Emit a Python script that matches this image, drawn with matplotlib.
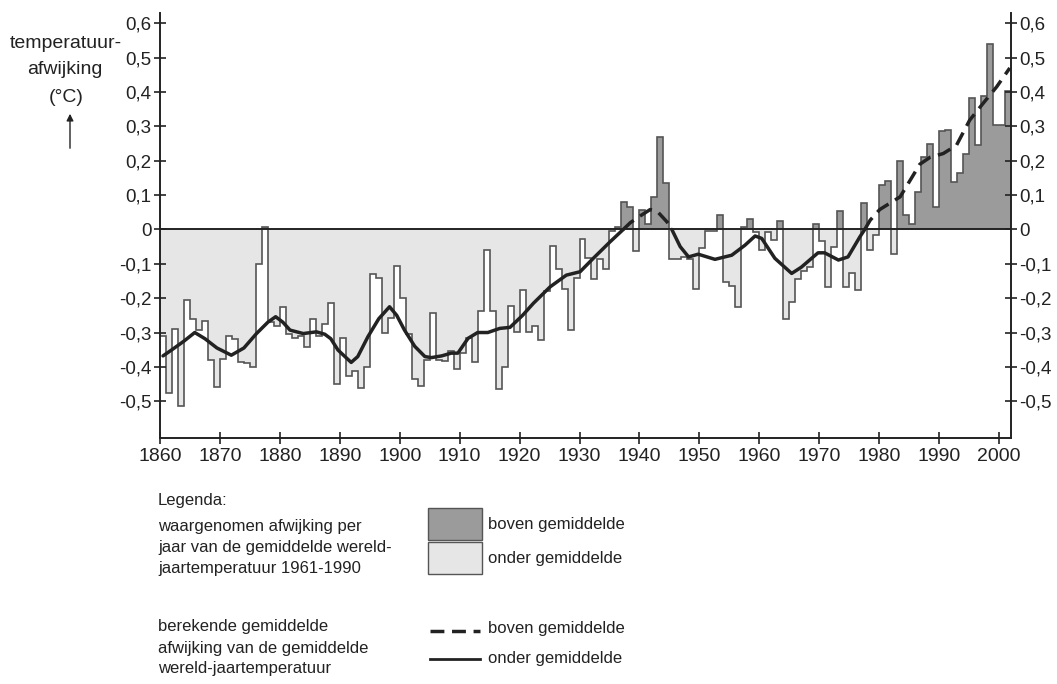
import numpy as np
import matplotlib
matplotlib.use("Agg")
import matplotlib.pyplot as plt
from matplotlib.patches import Rectangle
from matplotlib.lines import Line2D

plt.rcParams['font.family'] = ['Liberation Sans', 'DejaVu Sans']

# ---- data: yearly anomaly (deg C, relative to 1961-1990) ----
years = list(range(1860, 2002))
anomaly = [
    -0.31, -0.475, -0.29, -0.515, -0.204, -0.26, -0.293, -0.267, -0.38, -0.46,   # 1860-1869
    -0.376, -0.31, -0.32, -0.385, -0.39, -0.40, -0.102, 0.006, -0.27, -0.28,     # 1870-1879
    -0.227, -0.303, -0.317, -0.31, -0.342, -0.261, -0.31, -0.274, -0.213, -0.449, # 1880-1889
    -0.317, -0.426, -0.412, -0.462, -0.40, -0.13, -0.141, -0.30, -0.257, -0.107, # 1890-1899
    -0.20, -0.305, -0.436, -0.457, -0.38, -0.244, -0.38, -0.383, -0.353, -0.406, # 1900-1909
    -0.359, -0.317, -0.387, -0.236, -0.06, -0.236, -0.465, -0.40, -0.223, -0.298, # 1910-1919
    -0.177, -0.298, -0.28, -0.322, -0.179, -0.048, -0.116, -0.174, -0.293, -0.14, # 1920-1929
    -0.028, -0.084, -0.145, -0.087, -0.116, -0.005, 0.008, 0.08, 0.064, -0.062,  # 1930-1939
    0.058, 0.015, 0.093, 0.27, 0.134, -0.087, -0.086, -0.081, -0.085, -0.174,    # 1940-1949
    -0.055, -0.004, -0.004, 0.042, -0.154, -0.165, -0.225, 0.008, 0.03, -0.007,  # 1950-1959
    -0.06, -0.007, -0.031, 0.024, -0.26, -0.21, -0.145, -0.12, -0.11, 0.015,     # 1960-1969
    -0.035, -0.167, -0.05, 0.053, -0.167, -0.128, -0.175, 0.078, -0.06, -0.016,  # 1970-1979
    0.13, 0.141, -0.07, 0.2, 0.042, 0.015, 0.11, 0.211, 0.25, 0.064,             # 1980-1989
    0.287, 0.29, 0.139, 0.165, 0.221, 0.384, 0.247, 0.388, 0.54, 0.303,          # 1990-1999
    0.305, 0.402,                                                                 # 2000-2001
]

# ---- data: smoothed (calculated) mean anomaly ----
smooth_years = [1860.5, 1862, 1864, 1865.8, 1867.5, 1869.5, 1871.9, 1874, 1876.1, 1878,
                1879.3, 1880.5, 1881.7, 1883.9, 1886.1, 1887.5, 1888.5, 1889.7, 1891.9, 1893,
                1894.7, 1896.5, 1898.3, 1899.5, 1900.8, 1902.5, 1904.2, 1905.3, 1907, 1908.6,
                1909.7, 1911.4, 1913.0, 1914.7, 1916.7, 1918.4, 1920.5, 1922.3, 1925.1, 1927.8,
                1930.1, 1932.3, 1935.1, 1937.3, 1938.5, 1940.1, 1941.8, 1942.9, 1944.6, 1945.4,
                1946.8, 1948.2, 1949.8, 1952.6, 1955.4, 1957.6, 1959.3, 1960.4, 1962.6, 1965.4,
                1967.0, 1969.8, 1970.9, 1973.2, 1974.8, 1976.8, 1977.6, 1978.5, 1980.1, 1983.5,
                1986.8, 1988.5, 1990.7, 1992.9, 1995.1, 1997.3, 1999.6, 2001.8]
smooth_vals = [-0.368, -0.35, -0.325, -0.30, -0.318, -0.345, -0.366, -0.345, -0.303, -0.27,
               -0.254, -0.27, -0.293, -0.303, -0.298, -0.305, -0.318, -0.351, -0.387, -0.37,
               -0.312, -0.26, -0.225, -0.25, -0.293, -0.34, -0.37, -0.373, -0.368, -0.36,
               -0.36, -0.317, -0.30, -0.30, -0.288, -0.285, -0.25, -0.215, -0.167, -0.133,
               -0.123, -0.084, -0.036, 0.0, 0.02, 0.039, 0.058, 0.054, 0.022, 0.0,
               -0.05, -0.08, -0.072, -0.087, -0.075, -0.046, -0.019, -0.026, -0.084, -0.128,
               -0.11, -0.068, -0.068, -0.089, -0.08, -0.021, 0.0, 0.027, 0.058, 0.095,
               0.19, 0.21, 0.221, 0.245, 0.318, 0.366, 0.415, 0.47]

y_ticks = [0.6, 0.5, 0.4, 0.3, 0.2, 0.1, 0.0, -0.1, -0.2, -0.3, -0.4, -0.5]
y_tick_labels = ['0,6', '0,5', '0,4', '0,3', '0,2', '0,1', '0', '-0,1', '-0,2', '-0,3', '-0,4', '-0,5']
x_ticks = list(range(1860, 2001, 10))

DARK = '#9b9b9b'
LIGHT = '#e6e6e6'
EDGE = '#555555'
INK = '#222222'
DASH = (0, (4.0, 2.2))

W, H = 1057, 684
fig = plt.figure(figsize=(W / 100, H / 100), dpi=100)
ax = fig.add_axes([160 / W, 1 - 438 / H, (1010.7 - 160) / W, (438 - 13) / H])

vals = np.array(anomaly)
edges = np.arange(years[0], years[-1] + 2)
pos = np.where(vals > 0, vals, 0)
neg = np.where(vals < 0, vals, 0)
ax.stairs(neg, edges, baseline=0, fill=True, color=LIGHT, lw=0)
ax.stairs(pos, edges, baseline=0, fill=True, color=DARK, lw=0)
ax.stairs(vals, edges, baseline=None, color=EDGE, lw=1.2)
ax.axhline(0, color=INK, lw=1.4)

sv = np.array(smooth_vals)
sy = np.array(smooth_years)
solid = np.where(sv <= 0, sv, np.nan)
dashed = np.where(sv >= 0, sv, np.nan)
ax.plot(sy, solid, color=INK, lw=2.5, solid_capstyle='round', solid_joinstyle='round')
ax.plot(sy, dashed, color=INK, lw=2.5, linestyle=DASH)

ax.set_xlim(1860, 2001.95)
ax.set_ylim(-0.607, 0.63)
ax.spines['top'].set_visible(False)
for s in ['left', 'right', 'bottom']:
    ax.spines[s].set_color(INK)
    ax.spines[s].set_linewidth(1.4)

ax.set_yticks(y_ticks)
ax.set_yticklabels(y_tick_labels)
ax.set_xticks(x_ticks)
ax.set_xticklabels([str(x) for x in x_ticks])
ax.tick_params(axis='y', which='both', direction='inout', length=8, width=1.2, color=INK,
               labelsize=13.5, left=True, right=True, labelleft=True, labelright=True, pad=2,
               labelcolor=INK)
ax.tick_params(axis='x', direction='inout', length=8, width=1.2, color=INK, labelsize=14,
               pad=3, labelcolor=INK)

def ft(x, y, s, ha='left', size=12):
    fig.text(x / W, 1 - y / H, s, ha=ha, va='center', fontsize=size, color=INK)

# y-axis title
ft(66, 44, 'temperatuur-', ha='center', size=14)
ft(65, 70, 'afwijking', ha='center', size=14)
ft(66, 97, '(°C)', ha='center', size=14)
ax.annotate('', xy=(70, H - 111), xytext=(70, H - 151), xycoords='figure pixels',
            textcoords='figure pixels',
            arrowprops=dict(arrowstyle='-|>', color=INK, lw=1.0, mutation_scale=10))

# legend
ft(158, 501, 'Legenda:')
ft(158, 527, 'waargenomen afwijking per')
ft(158, 547.5, 'jaar van de gemiddelde wereld-')
ft(158, 568, 'jaartemperatuur 1961-1990')
ft(158, 627, 'berekende gemiddelde')
ft(158, 648, 'afwijking van de gemiddelde')
ft(158, 669, 'wereld-jaartemperatuur')

fig.add_artist(Rectangle((428 / W, 1 - 540 / H), 54 / W, 32 / H, transform=fig.transFigure,
                         facecolor=DARK, edgecolor=EDGE, lw=1.0))
fig.add_artist(Rectangle((428 / W, 1 - 574 / H), 54 / W, 32 / H, transform=fig.transFigure,
                         facecolor=LIGHT, edgecolor=EDGE, lw=1.0))
ft(488, 524, 'boven gemiddelde')
ft(488, 558, 'onder gemiddelde')
fig.add_artist(Line2D([430 / W, 480 / W], [1 - 631 / H, 1 - 631 / H], transform=fig.transFigure,
                      color=INK, lw=2.5, linestyle=DASH))
fig.add_artist(Line2D([430 / W, 480 / W], [1 - 659 / H, 1 - 659 / H], transform=fig.transFigure,
                      color=INK, lw=2.0))
ft(488, 628, 'boven gemiddelde')
ft(488, 659, 'onder gemiddelde')

fig.savefig('out.png', dpi=100)
